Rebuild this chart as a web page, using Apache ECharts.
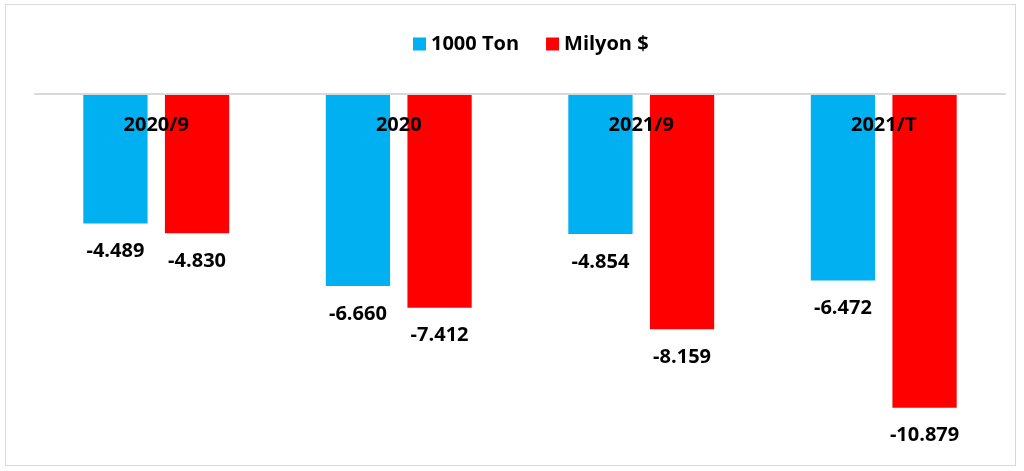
<!DOCTYPE html>
<html><head><meta charset="utf-8">
<script src="https://cdn.jsdelivr.net/npm/echarts@6/dist/echarts.min.js"></script>
<style>
html,body{margin:0;padding:0;background:#fff;}
#frame{position:absolute;left:5px;top:4px;width:1011px;height:462px;border:1px solid #d9d9d9;box-sizing:border-box;}
#c{position:absolute;left:0;top:0;width:1024px;height:471px;}
</style></head>
<body>
<div id="frame"></div>
<div id="c"></div>
<script>
const categories = ['2020/9', '2020', '2021/9', '2021/T'];
const tonValues = [-4.489, -6.660, -4.854, -6.472];
const usdValues = [-4.830, -7.412, -8.159, -10.879];
const seriesNames = ['1000 Ton', 'Milyon $'];

const fmt = v => v.toFixed(3);
const font = '"Open Sans", "Liberation Sans", sans-serif';
const chart = echarts.init(document.getElementById('c'));
const labelCfg = {
  show: true, position: 'bottom', distance: 18,
  formatter: p => fmt(p.value),
  fontFamily: font, fontWeight: 'bold', fontSize: 20, color: '#000'
};
chart.setOption({
  animation: false,
  legend: {
    top: 29, left: 408, itemWidth: 13, itemHeight: 13, itemGap: 27,
    icon: 'rect',
    textStyle: {fontFamily: font, fontWeight: 'bold', fontSize: 20, color: '#000'},
    data: seriesNames
  },
  grid: {left: 35, right: 19, top: 94, bottom: 31, containLabel: false},
  xAxis: {
    type: 'category', data: categories, position: 'top',
    axisLine: {show: true, lineStyle: {color: '#d9d9d9', width: 2}},
    axisTick: {show: false},
    axisLabel: {inside: true, margin: 21, fontFamily: font, fontWeight: 'bold', fontSize: 20, color: '#000'},
    z: 10
  },
  yAxis: {
    type: 'value', min: -12, max: 0, show: false, splitLine: {show: false}
  },
  series: [
    {name: seriesNames[0], type: 'bar', data: tonValues, barWidth: '26.5%', barGap: '27%',
     itemStyle: {color: '#00b0f0'}, label: labelCfg},
    {name: seriesNames[1], type: 'bar', data: usdValues, barWidth: '26.5%',
     itemStyle: {color: '#ff0000'}, label: labelCfg}
  ]
});
</script>
</body></html>
